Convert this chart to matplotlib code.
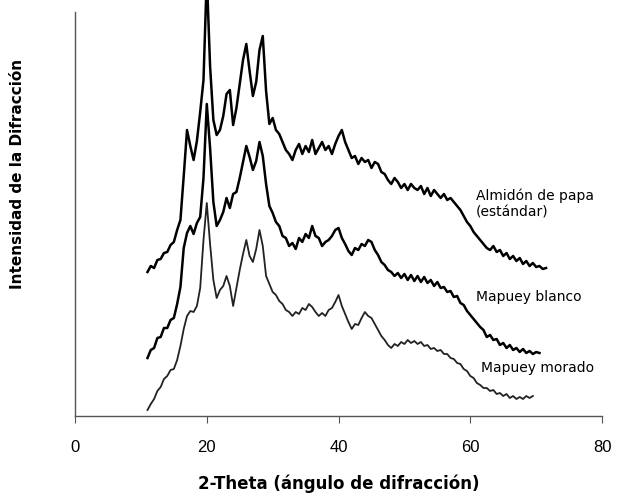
import numpy as np
from matplotlib import pyplot as plt

# 2-theta sampling grid (degrees), step 0.5
theta = np.arange(11.0, 71.6, 0.5)

# diffraction intensity (arbitrary units)
almidon = [144, 150, 148, 156, 157, 163, 164, 171, 174, 186,
           196, 240, 286, 270, 256, 275, 304, 336, 440, 350,
           296, 281, 286, 300, 322, 326, 291, 308, 332, 356,
           372, 345, 320, 334, 366, 380, 325, 292, 298, 286,
           282, 274, 266, 262, 256, 266, 272, 262, 270, 264,
           276, 262, 268, 274, 266, 270, 262, 272, 280, 286,
           274, 266, 258, 260, 252, 258, 254, 256, 248, 254,
           252, 244, 242, 236, 232, 238, 234, 228, 232, 226,
           232, 228, 226, 230, 222, 228, 220, 226, 222, 218,
           222, 216, 218, 214, 210, 206, 200, 194, 190, 184,
           180, 176, 172, 168, 166, 170, 164, 166, 160, 163,
           157, 160, 155, 158, 152, 155, 150, 153, 149, 150,
           147, 148]

blanco = [58, 66, 68, 78, 79, 88, 88, 96, 98, 112,
          129, 168, 183, 190, 182, 193, 199, 238, 312, 268,
          214, 190, 196, 204, 218, 208, 222, 224, 238, 254,
          270, 259, 246, 255, 274, 260, 232, 210, 203, 194,
          190, 180, 178, 170, 173, 167, 178, 174, 182, 178,
          190, 180, 178, 170, 174, 176, 180, 186, 188, 178,
          172, 165, 161, 168, 166, 172, 170, 176, 174, 166,
          161, 154, 151, 146, 144, 140, 143, 138, 142, 136,
          141, 135, 140, 134, 139, 133, 136, 130, 134, 128,
          129, 124, 125, 119, 120, 113, 111, 105, 101, 97,
          93, 89, 86, 79, 81, 76, 77, 71, 73, 68,
          71, 66, 68, 64, 67, 63, 65, 62, 64, 63]

morado = [6, 12, 17, 25, 29, 37, 40, 46, 47, 56,
          70, 87, 100, 105, 104, 110, 128, 176, 213, 172,
          136, 118, 126, 130, 140, 130, 110, 128, 146, 162,
          176, 160, 154, 167, 186, 170, 140, 132, 124, 121,
          115, 112, 106, 104, 100, 104, 102, 108, 106, 112,
          109, 104, 100, 103, 100, 106, 108, 114, 121, 110,
          102, 94, 87, 92, 91, 98, 104, 100, 98, 92,
          86, 80, 76, 71, 68, 72, 70, 74, 72, 76,
          73, 75, 72, 74, 70, 71, 67, 68, 65, 66,
          62, 62, 58, 57, 53, 52, 47, 45, 40, 38,
          33, 31, 28, 28, 25, 26, 22, 23, 20, 22,
          18, 20, 17, 19, 17, 20, 18, 20]

names = ["Almidón de papa\n(estándar)", "Mapuey blanco", "Mapuey morado"]
label_pos = [(60.9, 212), (60.9, 119), (61.6, 48)]


def main():
    fig = plt.figure(figsize=(6.18, 5.04), dpi=100)
    ax = fig.add_axes([0.1214, 0.1746, 0.8528, 0.8016])

    ax.plot(theta[:len(almidon)], almidon, color='black', lw=1.8, clip_on=False)
    ax.plot(theta[:len(blanco)], blanco, color='black', lw=1.8)
    ax.plot(theta[:len(morado)], morado, color='#222222', lw=1.3)

    for name, (x, y) in zip(names, label_pos):
        ax.text(x, y, name, fontsize=10, family='DejaVu Sans',
                va='center', ha='left', linespacing=1.2)

    ax.set_xlim(0, 80)
    ax.set_ylim(0, 404)
    ax.set_xticks([0, 20, 40, 60, 80])
    ax.set_yticks([])
    for s in ['top', 'right']:
        ax.spines[s].set_visible(False)
    for s in ['left', 'bottom']:
        ax.spines[s].set_color('#555555')
        ax.spines[s].set_linewidth(1.0)
    ax.tick_params(axis='x', direction='out', length=5, color='#555555',
                   labelsize=12, pad=12)
    for t in ax.get_xticklabels():
        t.set_family('Liberation Sans')

    ax.set_xlabel('2-Theta (ángulo de difracción)', fontsize=12,
                  fontweight='bold', labelpad=14)
    ax.set_ylabel('Intensidad de la Difracción', fontsize=11,
                  fontweight='bold')
    ax.yaxis.set_label_coords(-0.095, 0.6)

    fig.savefig('out.png', dpi=100)


if __name__ == "__main__":
    main()
